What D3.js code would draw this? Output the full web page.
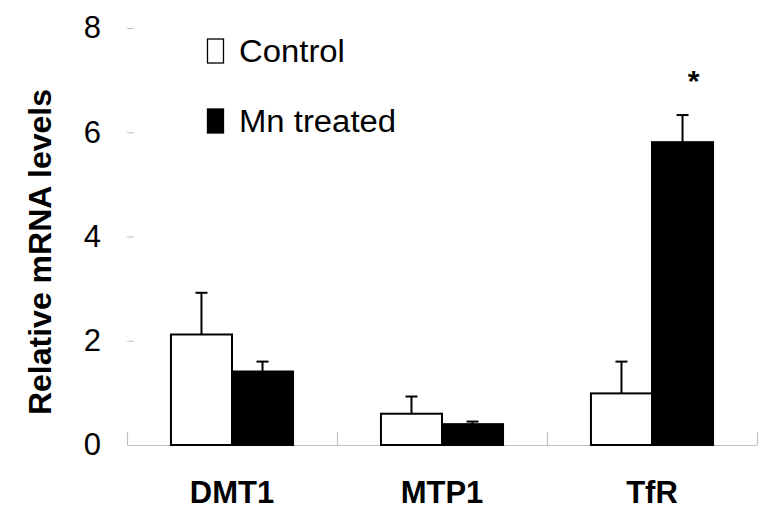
<!DOCTYPE html>
<html>
<head>
<meta charset="utf-8">
<script src="https://cdn.jsdelivr.net/npm/d3@7"></script>
<style>
  html, body { margin: 0; padding: 0; background: #fff; }
  svg { display: block; font-family: "Liberation Sans", Arial, sans-serif; }
</style>
</head>
<body>
<svg id="chart" width="780" height="522"></svg>
<script>
const categories = ["DMT1", "MTP1", "TfR"];
const seriesNames = ["Control", "Mn treated"];
const controlValues = [2.12, 0.60, 0.99];
const controlErrors = [0.80, 0.33, 0.61];
const mnValues = [1.41, 0.40, 5.81];
const mnErrors = [0.19, 0.05, 0.52];
const significant = [false, false, true];
const yTicks = [0, 2, 4, 6, 8];

const svg = d3.select("#chart");
const margin = { left: 127, right: 23, top: 28, bottom: 77 };
const W = 780, H = 522;

const x0 = d3.scaleBand().domain(categories).range([margin.left, W - margin.right]).padding(0);
const x1 = d3.scaleBand().domain(seriesNames).range([0, x0.bandwidth()]).paddingInner(0).paddingOuter(0.72);
const y = d3.scaleLinear().domain([0, 8]).range([H - margin.bottom, margin.top]);

const fills = { "Control": "#fff", "Mn treated": "#000" };

// y axis: ticks only, light gray, no domain line
const yAxis = d3.axisLeft(y).tickValues(yTicks).tickSize(7).tickPadding(26).tickFormat(d3.format("d"));
const gy = svg.append("g").attr("transform", `translate(${margin.left + 7},0)`).call(yAxis);
gy.select(".domain").remove();
gy.selectAll(".tick line").attr("stroke", "#c0c0c0").attr("stroke-width", 1);
gy.selectAll(".tick text").attr("font-size", 31).attr("fill", "#000").attr("font-family", "Liberation Sans, Arial, sans-serif");

// x axis baseline with upward band ticks
const gx = svg.append("g");
gx.append("line").attr("x1", x0.range()[0]).attr("x2", x0.range()[1])
  .attr("y1", y(0) + 0.5).attr("y2", y(0) + 0.5).attr("stroke", "#c0c0c0").attr("stroke-width", 1.2);
const bounds = categories.map(c => x0(c)).concat([x0.range()[1]]);
gx.selectAll("line.bt").data(bounds).join("line").attr("class", "bt")
  .attr("x1", d => d + 0.5).attr("x2", d => d + 0.5)
  .attr("y1", y(0)).attr("y2", y(0) - 13).attr("stroke", "#c0c0c0").attr("stroke-width", 1.2);

// x labels
svg.append("g").selectAll("text").data(categories).join("text")
  .attr("x", d => x0(d) + x0.bandwidth() / 2)
  .attr("y", 503)
  .attr("text-anchor", "middle")
  .attr("font-size", 31).attr("font-weight", "bold")
  .text(d => d);

// y label
svg.append("text")
  .attr("transform", `translate(51,${(87 + 417) / 2}) rotate(-90)`)
  .attr("text-anchor", "middle")
  .attr("font-size", 32).attr("font-weight", "bold")
  .text("Relative mRNA levels");

// bars
const rows = categories.map((c, i) => ({
  cat: c,
  items: [
    { s: "Control", v: controlValues[i], e: controlErrors[i] },
    { s: "Mn treated", v: mnValues[i], e: mnErrors[i] }
  ],
  sig: significant[i]
}));

const groups = svg.append("g").selectAll("g").data(rows).join("g")
  .attr("transform", d => `translate(${x0(d.cat)},0)`);

// error bars (drawn behind bars)
groups.selectAll("g.err").data(d => d.items).join("g").attr("class", "err").each(function (d) {
  const g = d3.select(this);
  const cx = x1(d.s) + x1.bandwidth() / 2;
  g.append("line").attr("x1", cx).attr("x2", cx).attr("y1", y(d.v)).attr("y2", y(d.v + d.e))
    .attr("stroke", "#000").attr("stroke-width", 2);
  g.append("line").attr("x1", cx - 6).attr("x2", cx + 6).attr("y1", y(d.v + d.e)).attr("y2", y(d.v + d.e))
    .attr("stroke", "#000").attr("stroke-width", 2);
});

groups.selectAll("rect").data(d => d.items).join("rect")
  .attr("x", d => x1(d.s))
  .attr("y", d => y(d.v))
  .attr("width", x1.bandwidth())
  .attr("height", d => y(0) - y(d.v))
  .attr("fill", d => fills[d.s])
  .attr("stroke", "#000").attr("stroke-width", 2);

// significance star
groups.filter(d => d.sig).append("text")
  .attr("x", d => x1("Mn treated") + x1.bandwidth() / 2 + 11)
  .attr("y", d => y(d.items[1].v + d.items[1].e) - 24)
  .attr("text-anchor", "middle")
  .attr("font-size", 30).attr("font-weight", "bold")
  .text("*");

// legend
const legend = svg.append("g");
seriesNames.forEach((s, i) => {
  const ly = 39 + i * 70;
  legend.append("rect").attr("x", 207.5).attr("y", ly).attr("width", 16).attr("height", 24)
    .attr("fill", fills[s]).attr("stroke", "#000").attr("stroke-width", 1.3);
  legend.append("text").attr("transform", `translate(239,${ly + 23}) scale(1.06,1)`)
    .attr("font-size", 31).text(s);
});
</script>
</body>
</html>
